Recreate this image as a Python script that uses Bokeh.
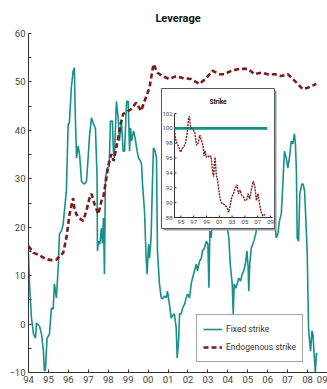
from bokeh.plotting import figure
from bokeh.models import Range1d, FixedTicker, ColumnDataSource
from bokeh.core.properties import value
from bokeh.embed import file_html
from bokeh.resources import INLINE

# ---------------- data ----------------
fixed_years = [1994.0, 1994.05, 1994.15, 1994.25, 1994.35, 1994.4, 1994.55, 1994.65, 1994.75, 1994.8,
               1994.85, 1994.93, 1995.05, 1995.15, 1995.24, 1995.3, 1995.4, 1995.5, 1995.55, 1995.65,
               1995.74, 1995.8, 1995.9, 1995.99, 1996.05, 1996.15, 1996.24, 1996.3, 1996.35, 1996.41,
               1996.49, 1996.56, 1996.66, 1996.74, 1996.81, 1996.91, 1996.99, 1997.06, 1997.16, 1997.24,
               1997.31, 1997.36, 1997.44, 1997.46, 1997.51, 1997.58, 1997.66, 1997.71, 1997.76, 1997.81,
               1997.86, 1997.95, 1998.05, 1998.11, 1998.21, 1998.26, 1998.31, 1998.41, 1998.5, 1998.56,
               1998.66, 1998.75, 1998.82, 1998.92, 1999.0, 1999.07, 1999.12, 1999.17, 1999.27, 1999.35,
               1999.45, 1999.52, 1999.62, 1999.67, 1999.72, 1999.82, 1999.9, 1999.95, 2000.02, 2000.07,
               2000.15, 2000.22, 2000.27, 2000.35, 2000.42, 2000.47, 2000.57, 2000.66, 2000.72, 2000.82,
               2000.91, 2000.97, 2001.07, 2001.16, 2001.22, 2001.32, 2001.41, 2001.46, 2001.53, 2001.58,
               2001.66, 2001.73, 2001.83, 2001.91, 2001.98, 2002.08, 2002.16, 2002.23, 2002.33, 2002.42,
               2002.48, 2002.58, 2002.67, 2002.73, 2002.83, 2002.92, 2003.0, 2003.05, 2003.1, 2003.16,
               2003.23, 2003.33, 2003.5, 2003.7, 2003.9, 2004.05, 2004.12, 2004.22, 2004.27, 2004.32,
               2004.39, 2004.47, 2004.55, 2004.64, 2004.72, 2004.8, 2004.88, 2004.96, 2005.02, 2005.05,
               2005.1, 2005.18, 2005.25, 2005.35, 2005.43, 2005.52, 2005.8, 2006.0, 2006.2, 2006.34,
               2006.43, 2006.51, 2006.59, 2006.68, 2006.76, 2006.84, 2006.93, 2007.01, 2007.09, 2007.18,
               2007.26, 2007.34, 2007.39, 2007.44, 2007.48, 2007.55, 2007.61, 2007.71, 2007.78, 2007.85,
               2007.91, 2007.98, 2008.05, 2008.1, 2008.15, 2008.22, 2008.27, 2008.32, 2008.39, 2008.44,
               2008.49]
fixed_values = [14.5, 8.3, 1.2, -2.0, -2.9, 0.2, -0.4, -2.0, -5.6, -9.7,
                -9.3, -2.9, -2.1, 3.3, 3.1, 8.3, 5.4, 12.4, 18.6, 19.2,
                20.6, 23.3, 27.5, 41.3, 41.5, 48.8, 52.3, 52.9, 42.6, 34.3,
                36.8, 35.1, 29.5, 29.1, 28.9, 29.5, 34.3, 38.8, 42.6, 41.5,
                40.9, 40.3, 30.2, 15.1, 17.1, 16.5, 19.8, 16.7, 21.9, 10.3,
                30.2, 32.2, 32.6, 41.9, 41.9, 35.7, 34.3, 46.0, 42.6, 37.8,
                41.9, 35.7, 35.7, 46.0, 46.0, 35.7, 40.5, 37.8, 39.9, 38.4,
                35.7, 34.3, 33.7, 33.0, 28.9, 23.3, 13.6, 10.3, 16.5, 13.6,
                17.8, 29.5, 36.4, 35.7, 34.3, 15.1, 8.3, 5.4, 5.2, 5.8,
                5.4, 6.8, 4.1, 1.2, 1.7, 2.1, -0.8, -7.0, -3.5, 2.1,
                2.1, 3.3, 4.1, 5.4, 6.2, 5.4, 8.3, 9.5, 11.0, 12.4,
                11.0, 13.0, 13.6, 15.1, 15.7, 17.1, 16.5, 7.5, 19.2, 17.8,
                21.3, 23.3, 27.0, 25.0, 22.0, 17.8, 12.4, 8.3, 2.1, 8.3,
                7.4, 8.3, 9.5, 8.9, 10.3, 11.0, 12.4, 15.1, 11.6, 6.8,
                12.4, 15.7, 16.5, 17.8, 19.2, 20.6, 22.0, 24.0, 22.0, 21.3,
                17.8, 18.6, 21.3, 22.7, 28.9, 35.7, 34.3, 32.2, 34.3, 37.8,
                37.2, 39.3, 37.2, 31.6, 17.8, 17.1, 26.9, 28.9, 28.9, 27.5,
                21.9, 15.1, -0.8, -3.5, -5.6, -1.4, -2.1, -5.6, -10.0, -6.2,
                -6.0]

endo_years = [1994.0, 1994.25, 1994.5, 1994.9, 1995.15, 1995.4, 1995.55, 1995.74, 1995.9, 1996.06,
              1996.24, 1996.3, 1996.4, 1996.54, 1996.74, 1996.9, 1997.06, 1997.16, 1997.31, 1997.5,
              1997.66, 1997.76, 1997.91, 1998.0, 1998.06, 1998.16, 1998.27, 1998.37, 1998.5, 1998.62,
              1998.75, 1998.87, 1999.15, 1999.4, 1999.65, 1999.82, 2000.07, 2000.27, 2000.47, 2000.72,
              2001.07, 2001.41, 2001.73, 2002.16, 2002.58, 2002.92, 2003.23, 2003.58, 2003.83, 2004.17,
              2004.59, 2005.0, 2005.34, 2005.68, 2006.0, 2006.34, 2006.68, 2007.01, 2007.26, 2007.51,
              2007.76, 2008.01, 2008.22, 2008.44]
endo_values = [16.1, 14.7, 14.3, 13.4, 13.2, 13.3, 14.0, 14.7, 17.8, 22.7,
               26.0, 24.0, 22.7, 21.9, 21.3, 23.3, 26.0, 26.9, 24.8, 22.7,
               25.4, 26.4, 30.2, 32.6, 33.7, 35.1, 33.7, 35.7, 38.4, 41.3,
               43.4, 43.6, 44.4, 45.7, 44.0, 46.0, 48.8, 53.7, 51.9, 51.2,
               50.6, 51.2, 50.8, 50.6, 49.6, 50.8, 52.3, 51.6, 51.6, 52.3,
               52.7, 52.7, 51.6, 51.9, 51.6, 51.6, 51.2, 51.6, 50.6, 49.6,
               48.5, 48.8, 49.2, 49.6]

# inset "Strike"
strike_fixed_years = [1994.0, 2008.5]
strike_fixed_values = [100.0, 100.0]
strike_endo_years = [1994.0, 1994.15, 1994.4, 1994.65, 1994.95, 1995.2, 1995.45, 1995.7, 1995.95, 1996.2,
                     1996.35, 1996.5, 1996.7, 1996.95, 1997.2, 1997.45, 1997.7, 1997.95, 1998.2, 1998.45,
                     1998.6, 1998.8, 1998.95, 1999.2, 1999.45, 1999.7, 1999.95, 2000.1, 2000.2, 2000.35,
                     2000.5, 2000.7, 2000.85, 2001.0, 2001.2, 2001.45, 2001.7, 2001.95, 2002.2, 2002.45,
                     2002.7, 2002.95, 2003.2, 2003.45, 2003.75, 2004.0, 2004.25, 2004.5, 2004.75, 2005.0,
                     2005.25, 2005.5, 2005.75, 2006.0, 2006.3, 2006.55, 2006.8, 2007.05, 2007.3, 2007.55,
                     2007.8, 2008.05, 2008.2]
strike_endo_values = [99.8, 98.6, 98.0, 97.5, 96.8, 97.3, 97.5, 98.0, 99.1, 101.4,
                      101.6, 100.3, 100.0, 99.8, 99.3, 97.7, 98.0, 99.1, 98.4, 97.7,
                      96.3, 97.0, 96.1, 96.3, 96.1, 96.3, 94.2, 93.5, 94.9, 96.1,
                      94.0, 93.1, 92.2, 91.2, 90.3, 89.8, 89.8, 89.6, 89.4, 88.7,
                      89.6, 90.8, 91.2, 91.9, 92.4, 91.2, 91.7, 91.0, 90.8, 90.3,
                      90.3, 91.2, 90.5, 91.7, 92.9, 92.2, 90.3, 91.2, 89.8, 88.7,
                      88.2, 88.4, 88.2]

x_ticks = [1994, 1995, 1996, 1997, 1998, 1999, 2000, 2001, 2002, 2003, 2004, 2005, 2006, 2007, 2008, 2009]
x_tick_labels = ["94", "95", "96", "97", "98", "99", "00", "01", "02", "03", "04", "05", "06", "07", "08", "09"]
y_ticks = [-10, 0, 10, 20, 30, 40, 50, 60]
y_minor_ticks = [-5, 5, 15, 25, 35, 45, 55]

inset_x_ticks = [1995, 1997, 1999, 2001, 2003, 2005, 2007, 2009]
inset_x_labels = ["95", "97", "99", "01", "03", "05", "07", "09"]
inset_y_ticks = [88, 90, 92, 94, 96, 98, 100, 102]
inset_y_labels = ["88", "90", "92", "94", "96", "98", "100", "102"]

# ---------------- styling / layout ----------------
TEAL = "#17908b"
RED = "#7a1c1c"
FONT = "Roboto"
FRAME_W, FRAME_H = 299, 339

# inset plot area in pixels, relative to main frame top-left
IN_L, IN_T, IN_W, IN_H = 146, 80, 96, 104
IX0, IX1 = 1994.0, 2009.0
IY0, IY1 = 88.0, 102.0
sx = (IX1 - IX0) / IN_W
sy = (IY1 - IY0) / IN_H
IX_START = IX0 - IN_L * sx
IY_TOP = IY1 + IN_T * sy


def ixp(px):
    return IX_START + px * sx


def iyp(py):
    return IY_TOP - py * sy


p = figure(frame_width=FRAME_W, frame_height=FRAME_H,
           x_range=Range1d(1994, 2009), y_range=Range1d(-10, 60),
           output_backend="svg", toolbar_location=None,
           min_border_left=28, min_border_right=0, min_border_top=33, min_border_bottom=17)
p.extra_x_ranges = {"ix": Range1d(IX_START, IX_START + FRAME_W * sx)}
p.extra_y_ranges = {"iy": Range1d(IY_TOP - FRAME_H * sy, IY_TOP)}

p.title.text = "Leverage"
p.title.align = "center"
p.title.text_font = FONT
p.title.text_font_size = "11px"
p.title.text_font_style = "bold"
p.title.text_color = "#111111"
p.title.standoff = 18

p.outline_line_color = None
p.xgrid.visible = False
p.ygrid.visible = False
p.background_fill_color = "white"
p.border_fill_color = "white"

for ax in (p.xaxis[0], p.yaxis[0]):
    ax.axis_line_color = "#333333"
    ax.major_tick_line_color = "#333333"
    ax.minor_tick_line_color = "#333333"
    ax.major_tick_in = 3
    ax.major_tick_out = 0
    ax.minor_tick_in = 3
    ax.minor_tick_out = 0
    ax.major_label_text_font = FONT
    ax.major_label_text_font_size = "9.5px"
    ax.major_label_text_color = "#444444"
    ax.major_label_standoff = 3

p.xaxis[0].ticker = FixedTicker(ticks=x_ticks, minor_ticks=[])
p.xaxis[0].major_label_overrides = {t: l for t, l in zip(x_ticks, x_tick_labels)}
p.yaxis[0].ticker = FixedTicker(ticks=y_ticks, minor_ticks=y_minor_ticks)

fixed_src = ColumnDataSource(dict(x=fixed_years, y=fixed_values))
endo_src = ColumnDataSource(dict(x=endo_years, y=endo_values))

p.line("x", "y", source=fixed_src, line_color=TEAL, line_width=1.6, legend_label="Fixed strike")
p.line("x", "y", source=endo_src, line_color=RED, line_width=2.6, line_dash="5 3",
       legend_label="Endogenous strike")

# ---------------- inset ----------------
kw = dict(x_range_name="ix", y_range_name="iy")
# shadow and box
p.quad(left=[ixp(135)], right=[ixp(248)], top=[iyp(57)], bottom=[iyp(197)],
       fill_color="#9a9a9a", line_color=None, **kw)
p.quad(left=[ixp(133)], right=[ixp(246)], top=[iyp(55)], bottom=[iyp(195)],
       fill_color="white", line_color="#555a66", line_width=1, **kw)

# inset axes
p.segment(x0=[IX0], y0=[IY0], x1=[IX0], y1=[IY1], line_color="#333333", line_width=1, **kw)
p.segment(x0=[IX0], y0=[IY0], x1=[IX1 + 0.3], y1=[IY0], line_color="#333333", line_width=1, **kw)
p.segment(x0=[IX0] * len(inset_y_ticks), y0=inset_y_ticks,
          x1=[IX0 + 2 * sx] * len(inset_y_ticks), y1=inset_y_ticks,
          line_color="#333333", line_width=1, **kw)
p.segment(x0=inset_x_ticks, y0=[IY0] * len(inset_x_ticks),
          x1=inset_x_ticks, y1=[IY0 + 2 * sy] * len(inset_x_ticks),
          line_color="#333333", line_width=1, **kw)

p.text(x=[IX0] * len(inset_y_ticks), y=inset_y_ticks, text=inset_y_labels,
       text_font=value(FONT), text_font_size="6px", text_color="#444444",
       text_align="right", text_baseline="middle", x_offset=-2, **kw)
p.text(x=inset_x_ticks, y=[IY0] * len(inset_x_ticks), text=inset_x_labels,
       text_font=value(FONT), text_font_size="6px", text_color="#444444",
       text_align="center", text_baseline="top", y_offset=2, **kw)
p.text(x=[(ixp(133) + ixp(246)) / 2], y=[iyp(68)], text=["Strike"],
       text_font=value(FONT), text_font_size="6.5px", text_font_style="bold",
       text_color="#111111", text_align="center", text_baseline="middle", **kw)

p.line(strike_fixed_years, strike_fixed_values, line_color=TEAL, line_width=2.6, **kw)
p.line(strike_endo_years, strike_endo_values, line_color=RED, line_width=1.4, line_dash="2 1", **kw)

# ---------------- legend ----------------
lg = p.legend[0]
lg.location = (168, 10)
lg.border_line_color = "#444444"
lg.border_line_width = 1
lg.background_fill_color = "white"
lg.background_fill_alpha = 1
lg.label_text_font = FONT
lg.label_text_font_size = "8.5px"
lg.label_text_color = "#333333"
lg.glyph_width = 19
lg.glyph_height = 16
lg.label_height = 16
lg.label_standoff = 4
lg.spacing = 2
lg.padding = 6
lg.margin = 0

open("out.html", "w").write(file_html(p, INLINE))
